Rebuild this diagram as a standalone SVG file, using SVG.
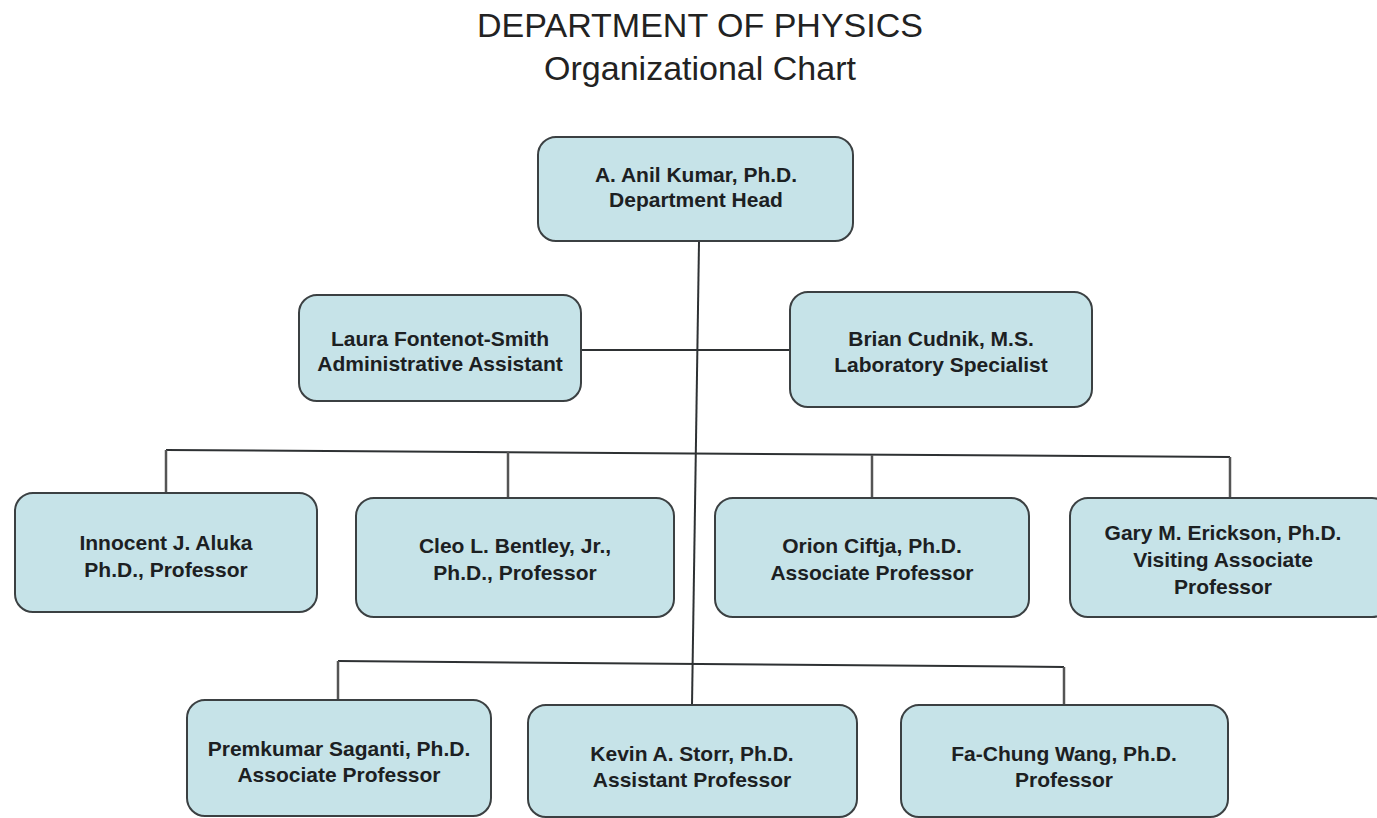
<svg xmlns="http://www.w3.org/2000/svg" width="1377" height="818" viewBox="0 0 1377 818">
<style>
.box{fill:#c6e3e8;stroke:#3b4042;stroke-width:2}
.t{font-family:"Liberation Sans",Arial,sans-serif;font-weight:bold;font-size:21px;fill:#1c2022;text-anchor:middle}
.title{font-family:"Liberation Sans",Arial,sans-serif;font-size:34px;fill:#222;text-anchor:middle}
.ln{fill:none;stroke:#2e3133;stroke-width:2}
.dr{fill:none;stroke:#555;stroke-width:2.5}
</style>
<rect width="1377" height="818" fill="#fff"/>
<text class="title" x="700" y="37">DEPARTMENT OF PHYSICS</text>
<text class="title" x="700" y="80">Organizational Chart</text>
<g id="connectors">
<path class="ln" d="M699 242 L692 705"/>
<path class="ln" d="M582 350 L790 350"/>
<path class="ln" d="M166 450 L1230 457"/>
<path class="dr" d="M166 450 L166 493"/>
<path class="dr" d="M508 452 L508 498"/>
<path class="dr" d="M872 455 L872 498"/>
<path class="dr" d="M1230 457 L1230 498"/>
<path class="ln" d="M338 661 L1064 667"/>
<path class="dr" d="M338 661 L338 700"/>
<path class="dr" d="M1064 667 L1064 705"/>
</g>
<g id="head"><rect class="box" x="538" y="137" width="315" height="104" rx="18"/>
<text class="t" x="696" y="182">A. Anil Kumar, Ph.D.</text><text class="t" x="696" y="207">Department Head</text></g>
<g id="laura"><rect class="box" x="299" y="295" width="282" height="106" rx="18"/>
<text class="t" x="440" y="346">Laura Fontenot-Smith</text><text class="t" x="440" y="371">Administrative Assistant</text></g>
<g id="brian"><rect class="box" x="790" y="292" width="302" height="115" rx="18"/>
<text class="t" x="941" y="346">Brian Cudnik, M.S.</text><text class="t" x="941" y="372">Laboratory Specialist</text></g>
<g id="aluka"><rect class="box" x="15" y="493" width="302" height="119" rx="18"/>
<text class="t" x="166" y="550">Innocent J. Aluka</text><text class="t" x="166" y="577">Ph.D., Professor</text></g>
<g id="bentley"><rect class="box" x="356" y="498" width="318" height="119" rx="18"/>
<text class="t" x="515" y="553">Cleo L. Bentley, Jr.,</text><text class="t" x="515" y="580">Ph.D., Professor</text></g>
<g id="ciftja"><rect class="box" x="715" y="498" width="314" height="119" rx="18"/>
<text class="t" x="872" y="553">Orion Ciftja, Ph.D.</text><text class="t" x="872" y="580">Associate Professor</text></g>
<g id="erickson"><rect class="box" x="1070" y="498" width="320" height="119" rx="18"/>
<text class="t" x="1223" y="540">Gary M. Erickson, Ph.D.</text><text class="t" x="1223" y="567">Visiting Associate</text><text class="t" x="1223" y="594">Professor</text></g>
<g id="saganti"><rect class="box" x="187" y="700" width="304" height="116" rx="18"/>
<text class="t" x="339" y="756">Premkumar Saganti, Ph.D.</text><text class="t" x="339" y="782">Associate Professor</text></g>
<g id="storr"><rect class="box" x="528" y="705" width="329" height="112" rx="18"/>
<text class="t" x="692" y="761">Kevin A. Storr, Ph.D.</text><text class="t" x="692" y="787">Assistant Professor</text></g>
<g id="wang"><rect class="box" x="901" y="705" width="327" height="112" rx="18"/>
<text class="t" x="1064" y="761">Fa-Chung Wang, Ph.D.</text><text class="t" x="1064" y="787">Professor</text></g>
</svg>
